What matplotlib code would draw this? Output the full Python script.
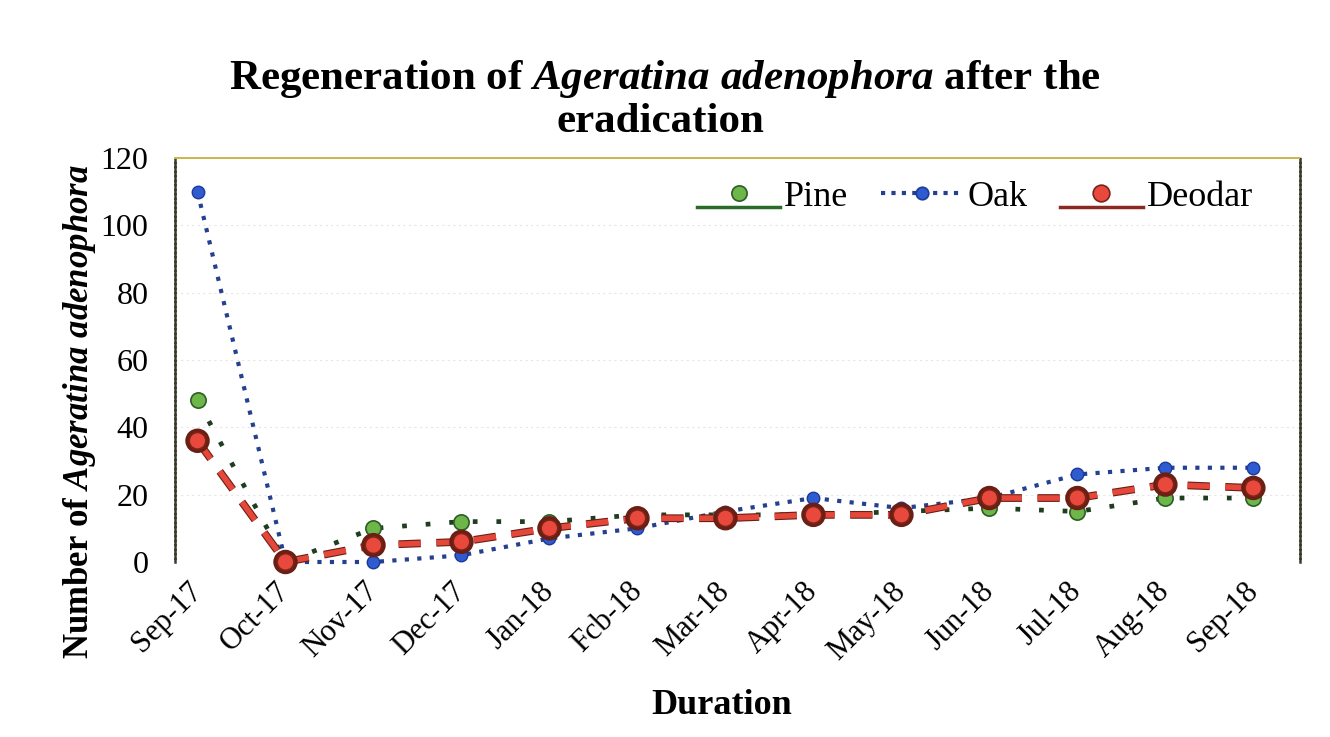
import matplotlib
matplotlib.use("Agg")
import matplotlib.pyplot as plt
import matplotlib.patheffects as pe
import matplotlib.transforms as mtransforms
from matplotlib.lines import Line2D
from matplotlib.legend_handler import HandlerBase

months = ["Sep-17", "Oct-17", "Nov-17", "Dec-17", "Jan-18", "Feb-18", "Mar-18",
          "Apr-18", "May-18", "Jun-18", "Jul-18", "Aug-18", "Sep-18"]
tick_labels = ["Sep-17", "Oct-17", "Nov-17", "Dec-17", "Jan-18", "Fcb-18", "Mar-18",
               "Apr-18", "May-18", "Jun-18", "Jul-18", "Aug-18", "Sep-18"]
pine = [48, 0, 10, 12, 12, 14, 14, 14, 15, 16, 15, 19, 19]
oak = [110, 0, 0, 2, 7, 10, 15, 19, 16, 19, 26, 28, 28]
deodar = [36, 0, 5, 6, 10, 13, 13, 14, 14, 19, 19, 23, 22]
y_ticks = [0, 20, 40, 60, 80, 100, 120]

plt.rcParams["font.family"] = ["Liberation Serif", "DejaVu Serif"]
plt.rcParams["mathtext.fontset"] = "custom"
plt.rcParams["mathtext.rm"] = "Liberation Serif:bold"
plt.rcParams["mathtext.it"] = "Liberation Serif:bold:italic"
plt.rcParams["mathtext.bf"] = "Liberation Serif:bold"

W, H = 1330, 737
fig = plt.figure(figsize=(W / 100, H / 100), dpi=100)
ax = fig.add_axes([175 / W, 1 - 562 / H, 1125 / W, 404 / H])

x = list(range(len(months)))

# faint horizontal gridlines
for v in y_ticks[1:]:
    ax.axhline(v, color="#e6e6e6", lw=0.8, ls=(0, (2, 3)), zorder=0)

ax.plot(x, oak, color="#24408f", lw=3.0, ls=(0, (1, 2)),
        marker="o", ms=9, mfc="#2f5bd0", mec="#1c3a9a", mew=1.0,
        clip_on=False, zorder=3, label="Oak")
ax.plot(x, pine, color="#1f3d1f", lw=3.4, ls=(0, (1, 4)),
        marker="o", ms=11, mfc="#6cb64a", mec="#2e5e26", mew=1.2,
        clip_on=False, zorder=4, label="Pine")
ax.plot(x, deodar, color="#e5483a", lw=4.0, ls=(0, (4, 2.8)),
        marker="o", ms=12, mfc="#e8493c", mec="#7a2418", mew=1.2,
        clip_on=False, zorder=5, label="Deodar",
        path_effects=[pe.Stroke(linewidth=5.6, foreground="#6a1e14"), pe.Normal()])

ax.set_xlim(-0.256, 12.53)
ax.set_ylim(0, 120)
ax.set_yticks(y_ticks)
ax.set_xticks(x)
ax.set_xticklabels(tick_labels, rotation=45, ha="right", va="center",
                   rotation_mode="anchor", fontsize=22)
shift = mtransforms.ScaledTranslation(14 / 100, 0, fig.dpi_scale_trans)
for lab in ax.get_xticklabels():
    lab.set_transform(lab.get_transform() + shift)
ax.tick_params(axis="y", labelsize=23, length=0, pad=19)
ax.tick_params(axis="x", length=0, pad=18)

for side in ["left", "right"]:
    ax.spines[side].set_linestyle((0, (1.2, 0.6)))
    ax.spines[side].set_linewidth(1.8)
    ax.spines[side].set_color("#3a3a2a")
ax.spines["top"].set_linestyle((0, (2, 1)))
ax.spines["top"].set_linewidth(1.4)
ax.spines["top"].set_color("#c8b84a")
ax.spines["bottom"].set_visible(False)


class MarkerOverRule(HandlerBase):
    """Legend key: a marker with a rule drawn along its lower edge."""

    def __init__(self, rule_color, rule_style="-", rule_lw=2.5, drop=0.0, **kw):
        super().__init__(**kw)
        self.rule_color = rule_color
        self.rule_style = rule_style
        self.rule_lw = rule_lw
        self.drop = drop

    def create_artists(self, legend, orig_handle, xdescent, ydescent,
                       width, height, fontsize, trans):
        ymid = height / 2 - ydescent
        yr = ymid - self.drop * height
        rule = Line2D([-xdescent, -xdescent + width], [yr, yr],
                      color=self.rule_color, lw=self.rule_lw, ls=self.rule_style)
        mk = Line2D([-xdescent + width / 2], [ymid], ls="none", marker="o",
                    ms=orig_handle.get_markersize(),
                    mfc=orig_handle.get_markerfacecolor(),
                    mec=orig_handle.get_markeredgecolor(), mew=1.2)
        rule.set_transform(trans)
        mk.set_transform(trans)
        return [rule, mk]


h_pine = Line2D([], [], marker="o", ms=11, mfc="#6cb64a", mec="#2e5e26")
h_oak = Line2D([], [], marker="o", ms=9, mfc="#2f5bd0", mec="#1c3a9a")
h_deo = Line2D([], [], marker="o", ms=12, mfc="#e8493c", mec="#7a2418")
fig.legend([h_pine, h_oak, h_deo], ["Pine", "Oak", "Deodar"], loc="center",
           bbox_to_anchor=(975 / W, 1 - 197 / H), ncol=3, frameon=False,
           fontsize=26, handlelength=2.3, columnspacing=0.9, handletextpad=0.1,
           handler_map={
               h_pine: MarkerOverRule("#2a6b2a", drop=0.55),
               h_oak: MarkerOverRule("#24408f", rule_style=(0, (1, 1.5)),
                                     rule_lw=3.0, drop=0.0),
               h_deo: MarkerOverRule("#8b2a22", drop=0.55),
           })

fig.text(665 / W, 1 - 79 / H,
         r"Regeneration of $Ageratina\ adenophora$ after the",
         ha="center", va="center", fontsize=31, fontweight="bold")
fig.text(660 / W, 1 - 122 / H, "eradication",
         ha="center", va="center", fontsize=31, fontweight="bold")
fig.text(80 / W, 1 - 412 / H, r"Number of $Ageratina\ adenophora$",
         ha="center", va="center", rotation=90, fontsize=25, fontweight="bold")
fig.text(722 / W, 1 - 705 / H, "Duration",
         ha="center", va="center", fontsize=26, fontweight="bold")

fig.savefig("out.png", dpi=100, facecolor="white")
